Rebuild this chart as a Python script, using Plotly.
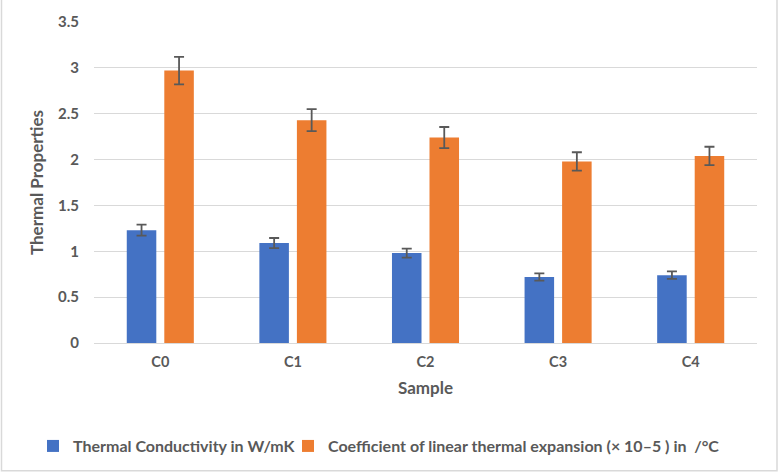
import plotly.graph_objects as go

samples = ["C0", "C1", "C2", "C3", "C4"]
conductivity = [1.23, 1.09, 0.98, 0.72, 0.74]
conductivity_err = [0.06, 0.055, 0.05, 0.04, 0.04]
expansion = [2.97, 2.43, 2.24, 1.98, 2.04]
expansion_err = [0.15, 0.12, 0.115, 0.10, 0.10]
y_ticks = [0, 0.5, 1, 1.5, 2, 2.5, 3, 3.5]
y_tick_text = ["0", "0.5", "1", "1.5", "2", "2.5", "3", "3.5"]

FONT = "Lato"
GRAY = "#595959"

fig = go.Figure()
fig.add_trace(go.Bar(
    x=samples, y=conductivity, name="Thermal Conductivity in W/mK",
    marker=dict(color="#4472C4", line=dict(width=0)),
    error_y=dict(type="data", array=conductivity_err, color=GRAY, thickness=1.8, width=5),
    legend="legend",
))
fig.add_trace(go.Bar(
    x=samples, y=expansion, name="Coefficient of linear thermal expansion (× 10–5 ) in  /°C",
    marker=dict(color="#ED7D31", line=dict(width=0)),
    error_y=dict(type="data", array=expansion_err, color=GRAY, thickness=1.8, width=5),
    legend="legend2",
))

W, H = 779, 475
ml, mr, mt, mb = 94, 22, 20, 131
pw, ph = W - ml - mr, H - mt - mb

legend_common = dict(
    orientation="h", xanchor="left", y=-(448 - 344) / ph, yanchor="middle",
    font=dict(family=FONT, size=16, color=GRAY, weight="bold"),
    itemwidth=30, bgcolor="rgba(0,0,0,0)",
)

fig.update_layout(
    width=W, height=H,
    margin=dict(l=ml, r=mr, t=mt, b=mb),
    paper_bgcolor="white", plot_bgcolor="white",
    barmode="group", bargap=0.434, bargroupgap=0.213,
    font=dict(family=FONT, color=GRAY, size=14),
    xaxis=dict(
        showgrid=False, showline=True, linecolor="#D9D9D9", linewidth=1,
        ticks="", ticklabelstandoff=6,
        tickfont=dict(family=FONT, size=14.5, color=GRAY, weight="bold"),
        title=dict(text="<b>Sample</b>", font=dict(size=17, color=GRAY), standoff=12),
    ),
    yaxis=dict(
        range=[0, 3.5], tickvals=y_ticks, ticktext=y_tick_text,
        showgrid=True, gridcolor="#D9D9D9", gridwidth=1, zeroline=False,
        ticks="", ticklabelstandoff=14,
        tickfont=dict(family=FONT, size=15, color=GRAY, weight="bold"),
        title=dict(text="<b>Thermal Properties</b>", font=dict(size=17, color=GRAY), standoff=10),
    ),
    legend=dict(x=(33 - ml) / pw, **legend_common),
    legend2=dict(x=(288 - ml) / pw, **legend_common),
    showlegend=True,
)

fig.add_shape(
    type="rect", xref="paper", yref="paper",
    x0=(1.5 - ml) / pw, x1=(W - 2 - ml) / pw,
    y0=-(H - 2 - mt - ph) / ph, y1=(H - 1 - mt) / ph,
    line=dict(color="#D9D9D9", width=1.5), fillcolor="rgba(0,0,0,0)", layer="below",
)

fig.write_html("out.html")
